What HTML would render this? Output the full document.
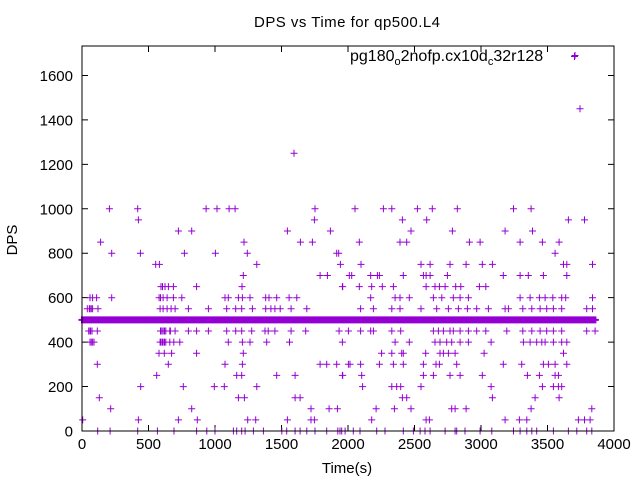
<!DOCTYPE html>
<html><head><meta charset="utf-8"><style>
body{margin:0;background:#fff}
svg{display:block;font-family:"Liberation Sans",sans-serif}
</style></head><body>
<svg id="chart" width="640" height="480">
<text x="347" y="27" font-size="15" text-anchor="middle" textLength="186">DPS vs Time for qp500.L4</text>
<text x="347" y="473" font-size="15" text-anchor="middle">Time(s)</text>
<text x="17" y="240" font-size="15" text-anchor="middle" transform="rotate(-90 17 240)">DPS</text>
<g id="ticks"></g>
<g id="pts"></g>
<rect x="82" y="46" width="532" height="385" fill="none" stroke="#000" stroke-width="1"/>
<g>
<text x="350" y="61" font-size="16">pg180<tspan font-size="11" dy="4">o</tspan><tspan dy="-4">2nofp.cx10d</tspan><tspan font-size="11" dy="4">c</tspan><tspan dy="-4">32r128</tspan></text>
<path d="M571 56.5h7M574.5 53v7" stroke="#9400d3" stroke-width="1"/>
</g>
</svg>
<script>
const xTicks=[0,500,1000,1500,2000,2500,3000,3500,4000];
const yTicks=[0,200,400,600,800,1000,1200,1400,1600];
const levels=[0,50,100,150,200,250,300,350,400,450,550,600,650,700,750,800,850,900,950,1000];
const times=[
[118,211,419,567,692,862,938,1000,1138,1163,1201,1226,1289,1364,1502,1539,1602,1640,1690,1752,1840,1923,1953,1940,1978,2040,2090,2216,2278,2416,2492,2542,2579,2617,2730,2805,2817,2880,2993,3081,3244,3294,3344,3382,3419,3544,3657,3720,3795,3833],
[5,424,725,867,1246,1306,1544,1722,1747,2178,2587,2612,3181,3289,3344,3732,3778,3820],
[216,825,1722,1858,1920,2211,2349,2474,2780,2805,2888,3377,3833],
[130,1176,1221,1602,1640,2409,2441,3086,3407,3587],
[441,762,995,1070,1314,2110,2329,2366,2396,2549,3076,3462,3544,3582,3607],
[562,1163,1201,1464,1602,1958,1960,2103,2567,2642,2767,2843,3010,3349,3439,3557,3582],
[115,649,1075,1206,1790,1840,1915,2003,2015,2095,2236,2341,2416,2567,2662,2687,2817,3168,3306,3469,3507,3557,3645],
[579,619,674,862,1213,2253,2329,2404,2416,2584,2692,2717,2755,2805,3023,3620],
[60,70,80,90,587,595,605,610,620,630,660,690,735,1100,1206,1263,1389,1560,1958,2354,2461,2654,2692,2742,2780,2843,2905,3076,3319,3369,3419,3457,3482,3544,3607,3645],
[50,60,65,75,115,590,600,610,620,630,660,665,700,800,862,950,1088,1156,1201,1276,1376,1400,1450,1572,1682,1933,2003,2095,2171,2191,2329,2396,2642,2680,2717,2767,2792,2843,2905,2968,3036,3194,3314,3382,3444,3494,3544,3607,3795,3858],
[40,55,60,70,80,120,587,610,640,670,700,800,950,1088,1156,1201,1281,1381,1420,1450,1490,1572,1690,2095,2191,2329,2391,2549,2667,2755,2830,2898,2968,3056,3181,3206,3314,3382,3444,3494,3544,3607,3795,3838],
[60,80,110,223,580,590,610,640,687,750,1075,1100,1176,1206,1263,1381,1406,1464,1557,1615,2171,2354,2391,2461,2642,2705,2792,2843,2905,3294,3369,3439,3482,3540,3607,3637,3838],
[594,605,624,650,687,862,1203,1958,1960,2085,2178,2258,2341,2587,2654,2687,2730,2810,2848,2988,3036],
[1213,1790,1845,2010,2028,2171,2221,2236,2416,2567,2587,2617,2747,3168,3294,3356,3469,3645],
[554,582,1314,1943,2098,2549,2617,2767,2888,3010,3086,3620,3645,3838],
[223,439,770,1003,1243,1915,1930,3557],
[140,1218,1642,1732,2085,2391,2441,2913,2993,3294,3462,3587],
[725,825,1544,1868,2474,2785,3181,3387],
[424,1747,2409,2592,3657,3778],
[206,419,933,1015,1106,1151,1752,2053,2266,2329,2522,2634,2822,3244,3377]
];
const bandTimes=[0,10,20,30,40,50,60,70,80,90,100,110,120,130,140,150,160,170,180,190,200,210,220,230,240,250,260,270,280,290,300,310,320,330,340,350,360,370,380,390,400,410,420,430,440,450,460,470,480,490,500,510,520,530,540,550,560,570,580,590,600,610,620,630,640,650,660,670,680,690,700,710,720,730,740,750,760,770,780,790,800,810,820,830,840,850,860,870,880,890,900,910,920,930,940,950,960,970,980,990,1000,1010,1020,1030,1040,1050,1060,1070,1080,1090,1100,1110,1120,1130,1140,1150,1160,1170,1180,1190,1200,1210,1220,1230,1240,1250,1260,1270,1280,1290,1300,1310,1320,1330,1340,1350,1360,1370,1380,1390,1400,1410,1420,1430,1440,1450,1460,1470,1480,1490,1500,1510,1520,1530,1540,1550,1560,1570,1580,1590,1600,1610,1620,1630,1640,1650,1660,1670,1680,1690,1700,1710,1720,1730,1740,1750,1760,1770,1780,1790,1800,1810,1820,1830,1840,1850,1860,1870,1880,1890,1900,1910,1920,1930,1940,1950,1960,1970,1980,1990,2000,2010,2020,2030,2040,2050,2060,2070,2080,2090,2100,2110,2120,2130,2140,2150,2160,2170,2180,2190,2200,2210,2220,2230,2240,2250,2260,2270,2280,2290,2300,2310,2320,2330,2340,2350,2360,2370,2380,2390,2400,2410,2420,2430,2440,2450,2460,2470,2480,2490,2500,2510,2520,2530,2540,2550,2560,2570,2580,2590,2600,2610,2620,2630,2640,2650,2660,2670,2680,2690,2700,2710,2720,2730,2740,2750,2760,2770,2780,2790,2800,2810,2820,2830,2840,2850,2860,2870,2880,2890,2900,2910,2920,2930,2940,2950,2960,2970,2980,2990,3000,3010,3020,3030,3040,3050,3060,3070,3080,3090,3100,3110,3120,3130,3140,3150,3160,3170,3180,3190,3200,3210,3220,3230,3240,3250,3260,3270,3280,3290,3300,3310,3320,3330,3340,3350,3360,3370,3380,3390,3400,3410,3420,3430,3440,3450,3460,3470,3480,3490,3500,3510,3520,3530,3540,3550,3560,3570,3580,3590,3600,3610,3620,3630,3640,3650,3660,3670,3680,3690,3700,3710,3720,3730,3740,3750,3760,3770,3780,3790,3800,3810,3820,3830,3840,3850,3860];
const bandValue=500;
const outlierTimes=[3707,3744,1594];
const outlierValues=[1690,1450,1250];

const NS="http://www.w3.org/2000/svg";
const xS=t=>82+t*0.133;
const yS=v=>431-v*0.2222;
const tg=document.getElementById('ticks');
let td="";
xTicks.forEach(t=>{const x=xS(t);td+=`M${x} 431v-6M${x} 46v6`;
 const lb=document.createElementNS(NS,'text');
 lb.setAttribute('x',x);lb.setAttribute('y',449);lb.setAttribute('font-size','15');lb.setAttribute('text-anchor','middle');
 
 
 lb.textContent=t;tg.appendChild(lb);});
yTicks.forEach(v=>{const y=yS(v);td+=`M82 ${y}h6M614 ${y}h-6`;
 const lb=document.createElementNS(NS,'text');
 lb.setAttribute('x',73);lb.setAttribute('y',y+5.5);lb.setAttribute('font-size','15');lb.setAttribute('text-anchor','end');
 
 
 lb.textContent=v;tg.appendChild(lb);});
const tp=document.createElementNS(NS,'path');
tp.setAttribute('d',td);tp.setAttribute('stroke','#000');tp.setAttribute('fill','none');


tg.appendChild(tp);

const crossPath=(pts)=>pts.map(([t,v])=>{const x=xS(t),y=yS(v);return `M${(x-3.5).toFixed(1)} ${y.toFixed(1)}h7M${x.toFixed(1)} ${(y-3.5).toFixed(1)}v7`;}).join('');
const scatterPts=[];
levels.forEach((v,i)=>times[i].forEach(t=>scatterPts.push([t,v])));
outlierTimes.forEach((t,i)=>scatterPts.push([t,outlierValues[i]]));
const bandPts=bandTimes.map(t=>[t,bandValue]);

const pp=document.createElementNS(NS,'path');
pp.setAttribute('d',crossPath(scatterPts));pp.setAttribute('stroke','#9400d3');pp.setAttribute('fill','none');pp.setAttribute('stroke-width','1');


document.getElementById('pts').appendChild(pp);

const bp=document.createElementNS(NS,'path');
bp.setAttribute('d',crossPath(bandPts));bp.setAttribute('stroke','#9400d3');bp.setAttribute('fill','none');bp.setAttribute('stroke-width','2');


document.getElementById('pts').appendChild(bp);
</script>
</body></html>
